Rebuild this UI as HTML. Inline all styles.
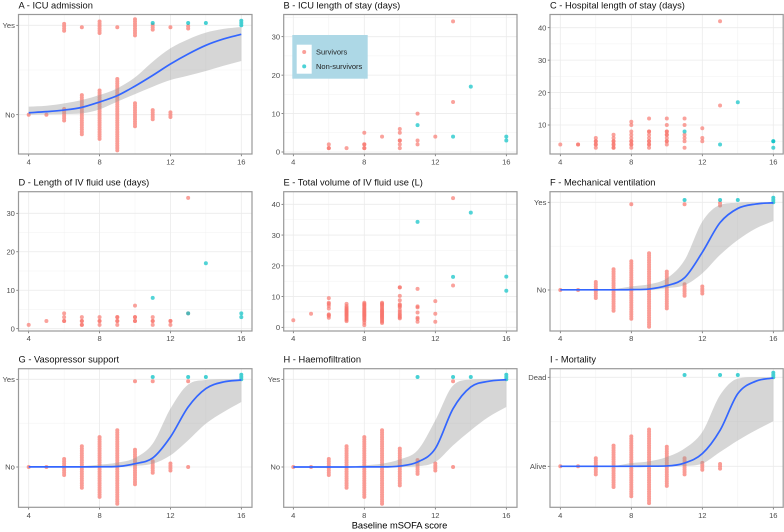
<!DOCTYPE html>
<html lang="en">
<head>
<meta charset="utf-8">
<title>Baseline mSOFA score outcomes</title>
<style>
html,body{margin:0;padding:0;background:#fff;width:784px;height:532px;overflow:hidden}
svg{display:block;font-family:"Liberation Sans",Arial,sans-serif;filter:blur(0.3px)}
.title{font-size:9.3px;fill:#111}
.tick{font-size:7.6px;fill:#4d4d4d}
.legend-label{font-size:7.5px;fill:#222}
.axis-title{font-size:9.3px;fill:#000}
</style>
</head>
<body>
<svg id="figure" width="784" height="532" viewBox="0 0 784 532" xmlns="http://www.w3.org/2000/svg">
  <text class="title" x="18.5" y="8.5">A - ICU admission</text>
  <text class="title" x="283.5" y="8.5">B - ICU length of stay (days)</text>
  <text class="title" x="550" y="8.5">C - Hospital length of stay (days)</text>
  <text class="title" x="18.5" y="185.5">D - Length of IV fluid use (days)</text>
  <text class="title" x="283.5" y="185.5">E - Total volume of IV fluid use (L)</text>
  <text class="title" x="550" y="185.5">F - Mechanical ventilation</text>
  <text class="title" x="18.5" y="362.5">G - Vasopressor support</text>
  <text class="title" x="283.5" y="362.5">H - Haemofiltration</text>
  <text class="title" x="550" y="362.5">I - Mortality</text>

  <g id="panel-a"></g>
  <g id="panel-b"></g>
  <g id="panel-c"></g>
  <g id="panel-d"></g>
  <g id="panel-e"></g>
  <g id="panel-f"></g>
  <g id="panel-g"></g>
  <g id="panel-h"></g>
  <g id="panel-i"></g>

  <g>
    <rect x="292.3" y="35" width="75.4" height="43.7" fill="#ADD8E6"/>
    <rect x="296.7" y="44.7" width="15" height="29" fill="#fff"/>
    <circle cx="304.2" cy="52" r="2" fill="#F8766D" fill-opacity="0.7"/>
    <circle cx="304.2" cy="66.4" r="2" fill="#00BFC4" fill-opacity="0.7"/>
    <text class="legend-label" x="316" y="54.7">Survivors</text>
    <text class="legend-label" x="316" y="69.2">Non-survivors</text>
  </g>

  <text class="axis-title" x="399.5" y="528.3" text-anchor="middle">Baseline mSOFA score</text>
</svg>
<script>
// Shared axis values
const scores = [4,5,6,7,8,9,10,11,12,13,14,15,16];
const xTicks = [4,8,12,16];
const binaryNoYes = ["No","Yes"];
const binaryAliveDead = ["Alive","Dead"];

// Panel A - ICU admission
const aLine = [.022,.034,.052,.082,.142,.213,.32,.44,.567,.679,.776,.847,.899];
const aHigh = [.09,.10,.127,.164,.22,.295,.418,.593,.743,.843,.918,.96,.981];
const aLow = [0,.004,.007,.015,.06,.146,.23,.313,.388,.437,.489,.548,.601];
const aLowerCounts = [1,1,6,18,22,32,11,5,3,0,0,0,0];
const aUpperSurvivors = [0,0,4,1,6,1,8,3,1,2,0,0,0];
const aUpperNonSurvivors = [0,0,0,0,0,0,0,1,0,1,1,0,3];

// Panel B - ICU length of stay
const bTicks = [0,10,20,30];
const bSurvivorX = [6,6,6,7,8,8,8,8,8,9,10,10,10,10,10,10,11,11,11,12,13,13];
const bSurvivorY = [1,1,2,1,1,1,2,2,5,4,1,2,3,3,5,6,2,3,10,4,13,34];
const bNonX = [11,13,14,16,16];
const bNonY = [7,4,17,3,4];

// Panel C - Hospital length of stay
const cTicks = [10,20,30,40];
const cSurvivorX = [4,5,5,6,6,6,6,6,6,7,7,7,7,7,7,7,7,8,8,8,8,8,8,8,8,8,8,9,9,9,9,9,9,9,9,9,9,10,10,10,10,10,10,10,10,10,10,11,11,11,11,11,11,12,12,12,13,13];
const cSurvivorY = [4,4,4,3,4,4,5,5,6,3,3,4,4,5,5,6,7,3,4,4,5,5,6,7,8,10,11,3,4,4,5,5,6,7,8,8,12,4,5,5,6,7,7,8,8,10,12,3,5,6,7,10,12,5,6,9,16,42];
const cNonX = [11,13,14,16,16,16];
const cNonY = [8,4,17,3,5,5];

// Panel D - Length of IV fluid use
const dTicks = [0,10,20,30];
const dSurvivorX = [4,5,6,6,6,6,7,7,7,7,7,8,8,8,8,9,9,9,9,9,10,10,10,10,10,11,11,11,11,12,12,12,13,13];
const dSurvivorY = [1,2,2,2,3,4,1,1,2,2,3,1,2,2,3,1,2,2,3,3,2,2,3,3,6,1,2,2,3,1,2,2,4,34];
const dNonX = [11,13,14,16,16];
const dNonY = [8,4,17,3,4];

// Panel E - Total volume of IV fluid use
const eTicks = [0,10,20,30,40];
const eSurvivorX = [4,5,6,6,6,6,6,6,6,6,6,
  7,7,7,7,7,7,7,7,7,7,7,7,7,7,7,7,
  8,8,8,8,8,8,8,8,8,8,8,8,8,8,8,8,8,8,8,8,
  9,9,9,9,9,9,9,9,9,9,9,9,9,9,9,9,9,9,9,9,
  10,10,10,10,10,10,10,10,10,10,10,10,10,10,10,
  11,11,11,11,11,11,11,12,12,12,13,13];
const eSurvivorY = [2.3,4.4,3.1,3.7,4,4.2,6.1,7,7.6,8,9.5,
  2,2.4,2.8,3.2,3.6,3.9,4.2,4.5,4.8,5.1,5.4,5.7,6,6.4,6.9,7.6,
  .7,1.5,2.2,2.6,3,3.4,3.7,4,4.3,4.6,4.9,5.2,5.5,5.9,6.2,6.6,7,7.3,7.6,8,
  1.4,1.8,2.2,2.6,3,3.3,3.6,3.9,4.2,4.5,4.8,5.1,5.4,5.7,6.1,6.6,7,7.4,7.7,8,
  2.9,3.2,3.6,4,4.4,5,5.6,6.5,6.9,7.2,7.5,8.8,10.2,13,13,
  1.8,2.7,3.1,4.8,6.5,6.8,12.5,1.8,4.4,8.5,13.6,42];
const eNonX = [11,13,14,16,16];
const eNonY = [34.3,16.4,37.3,11.9,16.5];

// Panel F - Mechanical ventilation
const fLine = [.002,.002,.002,.002,.004,.011,.05,.14,.43,.768,.93,.98,.995];
const fHigh = [.002,.003,.005,.012,.04,.065,.133,.34,.78,.97,.995,1,1];
const fLow = [0,0,0,0,0,.002,.02,.055,.19,.40,.57,.70,.787];
const fLowerCounts = [1,1,8,19,26,33,17,6,4,0,0,0,0];
const fUpperSurvivors = [0,0,0,0,1,0,0,1,0,2,0,0,0];
const fUpperNonSurvivors = [0,0,0,0,0,0,0,1,0,1,1,0,3];

// Panel G - Vasopressor support
const gLine = [.001,.001,.001,.001,.002,.006,.038,.103,.342,.684,.894,.97,.992];
const gHigh = [.001,.002,.004,.01,.027,.05,.103,.266,.665,.94,.992,1,1];
const gLow = [0,0,0,0,0,.001,.011,.038,.133,.304,.494,.627,.741];
const gLowerCounts = [1,1,8,19,27,33,16,6,4,1,0,0,0];
const gUpperSurvivors = [0,0,0,0,0,0,1,1,0,1,0,0,0];
const gUpperNonSurvivors = [0,0,0,0,0,0,0,1,0,1,1,0,3];

// Panel H - Haemofiltration
const hLine = [0,0,0,0,.001,.001,.011,.057,.21,.665,.913,.977,.996];
const hHigh = [0,0,.001,.004,.019,.038,.087,.19,.532,.93,.996,1,1];
const hLow = [0,0,0,0,0,0,0,.008,.057,.247,.418,.57,.684];
const hLowerCounts = [1,1,8,19,27,33,17,7,4,1,0,0,0];
const hUpperSurvivors = [0,0,0,0,0,0,0,0,0,1,0,0,0];
const hUpperNonSurvivors = [0,0,0,0,0,0,0,1,0,1,1,0,3];

// Panel I - Mortality
const iLine = [0,0,0,0,0,.001,.004,.037,.142,.404,.816,.955,.993];
const iHigh = [0,0,.001,.005,.037,.056,.105,.2,.386,.8,.985,1,1];
const iLow = [0,0,0,0,0,0,0,.004,.03,.16,.29,.404,.506];
const iLowerCounts = [1,1,8,19,27,33,18,8,4,3,0,0,0];
const iUpperSurvivors = [0,0,0,0,0,0,0,0,0,0,0,0,0];
const iUpperNonSurvivors = [0,0,0,0,0,0,0,1,0,1,1,0,3];

const NS = "http://www.w3.org/2000/svg";
const RED = "#F8766D", TEAL = "#00BFC4";
const STACK_STEP = 2.3;

const COLS = [
  {left:18.5, right:252, x4:28.7, x16:241.3},
  {left:283.7, right:517, x4:293.3, x16:506.3},
  {left:550, right:783.2, x4:560.3, x16:773.3}
];
const ROWS = [
  {top:14.5, bottom:154, labelY:164.5},
  {top:191.7, bottom:331, labelY:341},
  {top:368.7, bottom:507.3, labelY:518}
];

function mk(parent, tag, attrs, name) {
  const el = document.createElementNS(NS, tag);
  for (const k in attrs) el.setAttribute(k, attrs[k]);
  
  
  parent.appendChild(el);
  return el;
}

function linear(d0, r0, d1, r1) {
  return v => r0 + (v - d0) * (r1 - r0) / (d1 - d0);
}

function smoothSegments(px, py) {
  const n = px.length, s = [], m = new Array(n);
  for (let i = 0; i < n - 1; i++) s.push((py[i+1] - py[i]) / (px[i+1] - px[i]));
  m[0] = s[0]; m[n-1] = s[n-2];
  for (let i = 1; i < n - 1; i++) {
    if (s[i-1] * s[i] <= 0) { m[i] = 0; continue; }
    const central = (py[i+1] - py[i-1]) / (px[i+1] - px[i-1]);
    const limit = 3 * Math.min(Math.abs(s[i-1]), Math.abs(s[i]));
    m[i] = Math.sign(central) * Math.min(Math.abs(central), limit);
  }
  let d = "";
  for (let i = 0; i < n - 1; i++) {
    const h = (px[i+1] - px[i]) / 3;
    d += "C" + (px[i] + h).toFixed(2) + " " + (py[i] + m[i] * h).toFixed(2) + " " +
         (px[i+1] - h).toFixed(2) + " " + (py[i+1] - m[i+1] * h).toFixed(2) + " " +
         px[i+1].toFixed(2) + " " + py[i+1].toFixed(2);
  }
  return d;
}

function frame(g, col, row, x, y, yMajor, yMinor, yLabels) {
  [6,10,14].forEach(v => {
    mk(g, "line", {x1:x(v), x2:x(v), y1:row.top, y2:row.bottom, stroke:"#f1f1f1", "stroke-width":0.5}, "x-minor-gridline");
  });
  yMinor.forEach(v => {
    mk(g, "line", {x1:col.left, x2:col.right, y1:y(v), y2:y(v), stroke:"#f1f1f1", "stroke-width":0.5}, "y-minor-gridline");
  });
  xTicks.forEach(v => {
    mk(g, "line", {x1:x(v), x2:x(v), y1:row.top, y2:row.bottom, stroke:"#ebebeb", "stroke-width":0.8}, "x-major-gridline");
  });
  yMajor.forEach(v => {
    mk(g, "line", {x1:col.left, x2:col.right, y1:y(v), y2:y(v), stroke:"#ebebeb", "stroke-width":0.8}, "y-major-gridline");
  });
  xTicks.forEach(v => {
    mk(g, "line", {x1:x(v), x2:x(v), y1:row.bottom, y2:row.bottom + 2.2, stroke:"#555", "stroke-width":0.7}, "x-tick-mark");
    const t = mk(g, "text", {x:x(v), y:row.labelY, "text-anchor":"middle", class:"tick"}, "x-tick-label");
    t.textContent = v;
  });
  yMajor.forEach((v, i) => {
    mk(g, "line", {x1:col.left - 2.2, x2:col.left, y1:y(v), y2:y(v), stroke:"#555", "stroke-width":0.7}, "y-tick-mark");
    const t = mk(g, "text", {x:col.left - 3.6, y:y(v) + 2.7, "text-anchor":"end", class:"tick"}, "y-tick-label");
    t.textContent = yLabels ? yLabels[i] : v;
  });
}

function border(g, col, row) {
  mk(g, "rect", {x:col.left, y:row.top, width:col.right - col.left, height:row.bottom - row.top,
    fill:"none", stroke:"#999", "stroke-width":1.2}, "panel-border");
}

function dot(g, cx, cy, color, opacity, name) {
  mk(g, "circle", {cx:cx, cy:cy, r:2, fill:color, "fill-opacity":opacity}, name);
}

function stack(g, x, y, counts, level, offset, color, name) {
  const layer = mk(g, "g", {opacity:0.72}, name + "-stack");
  scores.forEach((s, idx) => {
    const n = counts[idx];
    for (let i = 0; i < n; i++) {
      dot(layer, x(s), y(level) + offset + (i - (n - 1) / 2) * STACK_STEP, color, 1, name);
    }
  });
}

function binaryPanel(id, c, r, y0, y1, labels, lowerCounts, upperSurv, upperNon, line, high, low) {
  const g = document.getElementById(id), col = COLS[c], row = ROWS[r];
  const x = linear(4, col.x4, 16, col.x16);
  const y = linear(0, y0, 1, y1);
  frame(g, col, row, x, y, [0,1], [0.5], labels);
  stack(g, x, y, lowerCounts, 0, 0, RED, "lower-group-point");
  stack(g, x, y, upperSurv, 1, 2, RED, "survivor-upper-point");
  stack(g, x, y, upperNon, 1, -2.3, TEAL, "non-survivor-upper-point");
  const px = scores.map(x);
  const hiY = high.map(y), loY = low.map(y);
  const rpx = px.slice().reverse(), rlo = loY.slice().reverse();
  const bandD = "M" + px[0] + " " + hiY[0] + smoothSegments(px, hiY) +
                "L" + rpx[0] + " " + rlo[0] + smoothSegments(rpx, rlo) + "Z";
  mk(g, "path", {d:bandD, fill:"#999", "fill-opacity":0.4}, "confidence-band");
  const lineY = line.map(y);
  mk(g, "path", {d:"M" + px[0] + " " + lineY[0] + smoothSegments(px, lineY), fill:"none",
    stroke:"#3366FF", "stroke-width":1.7}, "trend-line");
  border(g, col, row);
}

function scatterPanel(id, c, r, d0, p0, d1, p1, ticks, minors, survX, survY, nonX, nonY) {
  const g = document.getElementById(id), col = COLS[c], row = ROWS[r];
  const x = linear(4, col.x4, 16, col.x16);
  const y = linear(d0, p0, d1, p1);
  frame(g, col, row, x, y, ticks, minors, null);
  survX.forEach((s, i) => dot(g, x(s), y(survY[i]), RED, 0.68, "survivor-point"));
  nonX.forEach((s, i) => dot(g, x(s), y(nonY[i]), TEAL, 0.68, "non-survivor-point"));
  border(g, col, row);
}

binaryPanel("panel-a", 0, 0, 114.7, 25.3, binaryNoYes, aLowerCounts, aUpperSurvivors, aUpperNonSurvivors, aLine, aHigh, aLow);
scatterPanel("panel-b", 1, 0, 0, 152, 30, 36.7, bTicks, [5,15,25,35], bSurvivorX, bSurvivorY, bNonX, bNonY);
scatterPanel("panel-c", 2, 0, 10, 125, 40, 27.7, cTicks, [5,15,25,35], cSurvivorX, cSurvivorY, cNonX, cNonY);
scatterPanel("panel-d", 0, 1, 0, 328.7, 30, 213.3, dTicks, [5,15,25], dSurvivorX, dSurvivorY, dNonX, dNonY);
scatterPanel("panel-e", 1, 1, 0, 327.3, 40, 204.3, eTicks, [5,15,25,35], eSurvivorX, eSurvivorY, eNonX, eNonY);
binaryPanel("panel-f", 2, 1, 290, 202.3, binaryNoYes, fLowerCounts, fUpperSurvivors, fUpperNonSurvivors, fLine, fHigh, fLow);
binaryPanel("panel-g", 0, 2, 467, 379.3, binaryNoYes, gLowerCounts, gUpperSurvivors, gUpperNonSurvivors, gLine, gHigh, gLow);
binaryPanel("panel-h", 1, 2, 467, 379.3, binaryNoYes, hLowerCounts, hUpperSurvivors, hUpperNonSurvivors, hLine, hHigh, hLow);
binaryPanel("panel-i", 2, 2, 466.3, 377.3, binaryAliveDead, iLowerCounts, iUpperSurvivors, iUpperNonSurvivors, iLine, iHigh, iLow);
</script>
</body>
</html>
